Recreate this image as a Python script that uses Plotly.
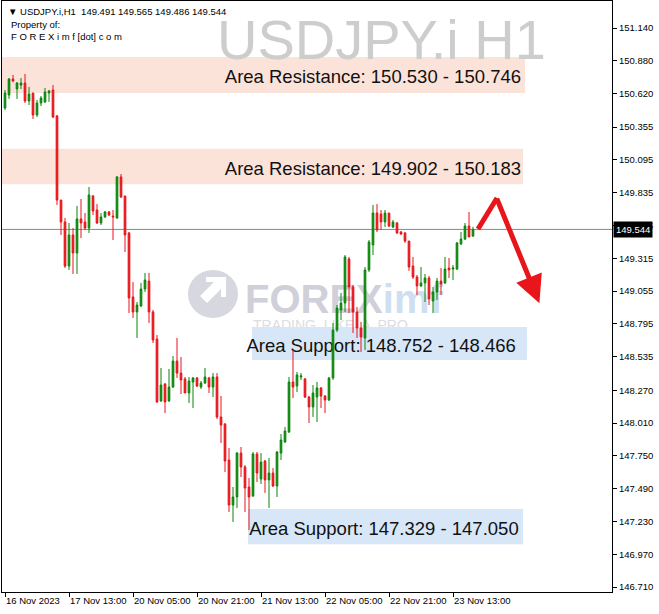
import plotly.graph_objects as go

# ---------------- data (USDJPY.i, H1) ----------------
opens = [150.506, 150.609, 150.736, 150.657, 150.688, 150.704, 150.562, 150.625, 150.451, 150.546,
         150.554, 150.625, 150.649, 150.443, 149.777, 149.603, 149.254, 149.500, 149.357, 149.627,
         149.603, 149.555, 149.809, 149.698, 149.595, 149.643, 149.682, 149.650, 149.635, 149.960,
         149.809, 149.516, 149.009, 148.890, 148.937, 149.072, 149.135, 148.890, 148.676, 148.185,
         148.319, 148.185, 148.295, 148.501, 148.406, 148.359, 148.248, 148.335, 148.367, 148.295,
         148.327, 148.367, 148.295, 148.375, 148.058, 148.002, 147.717, 147.360, 147.424, 147.772,
         147.662, 147.503, 147.432, 147.765, 147.566, 147.709, 147.559, 147.614, 147.511, 147.772,
         147.860, 147.939, 148.335, 148.303, 148.375, 148.359, 148.216, 148.137, 148.216, 148.288,
         148.224, 148.192, 148.367, 148.747, 148.906, 148.961, 149.310, 149.088, 148.890, 148.763,
         148.684, 149.223, 149.421, 149.674, 149.666, 149.603, 149.674, 149.563, 149.595, 149.524,
         149.516, 149.452, 149.254, 149.167, 149.096, 149.120, 149.159, 148.977, 149.048, 149.135,
         149.120, 149.238, 149.230, 149.230, 149.429, 149.468, 149.571, 149.491]

highs = [150.649, 150.744, 150.768, 150.712, 150.744, 150.776, 150.673, 150.625, 150.570, 150.601,
         150.665, 150.649, 150.688, 150.451, 149.777, 149.635, 149.595, 149.555, 149.730, 149.785,
         149.674, 149.880, 149.817, 149.746, 149.674, 149.690, 149.690, 149.698, 149.967, 149.983,
         149.809, 149.524, 149.127, 148.969, 149.120, 149.199, 149.199, 148.906, 148.708, 148.446,
         148.327, 148.438, 148.541, 148.684, 148.533, 148.375, 148.375, 148.375, 148.375, 148.343,
         148.446, 148.375, 148.406, 148.406, 148.224, 148.010, 147.812, 147.503, 147.780, 147.820,
         147.677, 147.574, 147.780, 147.780, 147.772, 147.717, 147.733, 147.654, 147.788, 147.923,
         147.979, 148.375, 148.589, 148.414, 148.406, 148.367, 148.224, 148.311, 148.335, 148.295,
         148.232, 148.375, 148.803, 148.945, 149.040, 149.341, 149.326, 149.104, 148.929, 148.811,
         149.246, 149.460, 149.738, 149.746, 149.698, 149.698, 149.674, 149.619, 149.603, 149.532,
         149.524, 149.452, 149.326, 149.183, 149.246, 149.191, 149.175, 149.088, 149.159, 149.238,
         149.326, 149.318, 149.262, 149.444, 149.524, 149.595, 149.682, 149.565]

lows = [150.490, 150.578, 150.712, 150.578, 150.657, 150.546, 150.530, 150.419, 150.435, 150.522,
        150.546, 150.554, 150.427, 149.738, 149.500, 149.238, 149.223, 149.191, 149.191, 149.476,
        149.540, 149.516, 149.658, 149.587, 149.579, 149.635, 149.650, 149.460, 149.627, 149.793,
        149.365, 148.882, 148.842, 148.684, 148.929, 149.048, 148.803, 148.644, 148.169, 148.177,
        148.089, 148.177, 148.288, 148.367, 148.240, 148.248, 148.169, 148.129, 148.295, 148.280,
        148.319, 148.248, 148.216, 148.042, 147.852, 147.622, 147.305, 147.226, 147.337, 147.582,
        147.305, 147.162, 147.424, 147.543, 147.527, 147.456, 147.337, 147.503, 147.424, 147.717,
        147.852, 147.931, 148.208, 148.256, 148.351, 148.208, 148.010, 148.058, 148.018, 148.129,
        148.089, 148.185, 148.351, 148.731, 148.826, 148.890, 148.882, 148.723, 148.684, 148.573,
        148.589, 149.207, 149.341, 149.524, 149.540, 149.563, 149.563, 149.555, 149.508, 149.500,
        149.437, 149.215, 149.151, 149.024, 149.088, 148.969, 148.945, 148.882, 148.985, 149.024,
        149.112, 149.159, 149.143, 149.223, 149.421, 149.460, 149.484, 149.486]

closes = [150.625, 150.736, 150.720, 150.704, 150.704, 150.562, 150.617, 150.451, 150.546, 150.585,
          150.633, 150.641, 150.435, 149.777, 149.603, 149.254, 149.500, 149.357, 149.627, 149.595,
          149.555, 149.817, 149.690, 149.595, 149.643, 149.682, 149.658, 149.643, 149.960, 149.801,
          149.500, 149.001, 148.890, 148.945, 149.072, 149.143, 148.890, 148.668, 148.177, 148.311,
          148.177, 148.295, 148.501, 148.406, 148.351, 148.248, 148.343, 148.367, 148.303, 148.327,
          148.375, 148.295, 148.375, 148.058, 147.994, 147.709, 147.360, 147.424, 147.772, 147.662,
          147.495, 147.424, 147.765, 147.614, 147.701, 147.559, 147.614, 147.511, 147.780, 147.875,
          147.947, 148.335, 148.295, 148.391, 148.383, 148.216, 148.137, 148.248, 148.288, 148.224,
          148.192, 148.367, 148.747, 148.921, 148.961, 149.326, 149.088, 148.890, 148.763, 148.692,
          149.223, 149.444, 149.674, 149.540, 149.603, 149.674, 149.571, 149.603, 149.516, 149.508,
          149.452, 149.246, 149.167, 149.096, 149.120, 149.159, 148.993, 149.048, 149.135, 149.112,
          149.230, 149.223, 149.238, 149.437, 149.468, 149.571, 149.484, 149.544]

bar_index = list(range(len(opens)))

time_tick_bars = [0, 16, 32, 48, 64, 80, 96, 112]
time_tick_labels = ["16 Nov 2023", "17 Nov 13:00", "20 Nov 05:00", "20 Nov 21:00",
                    "21 Nov 13:00", "22 Nov 05:00", "22 Nov 21:00", "23 Nov 13:00"]

price_ticks = [151.140, 150.880, 150.620, 150.355, 150.095, 149.835, 149.575, 149.315, 149.055,
               148.795, 148.535, 148.270, 148.010, 147.750, 147.490, 147.230, 146.970, 146.710]

last_price = 149.544
header_ohlc = "149.491 149.565 149.486 149.544"

resistance_zones = [(150.625, 150.910), (149.902, 150.183)]
resistance_labels = ["Area Resistance: 150.530 - 150.746", "Area Resistance: 149.902 - 150.183"]
support_zones = [(148.509, 148.771), (147.050, 147.329)]
support_labels = ["Area Support: 148.752 - 148.466", "Area Support: 147.329 - 147.050"]

# ---------------- styling ----------------
GREEN = "#0b860b"
RED = "#e8151b"
RES_FILL = "#fce3d9"
SUP_FILL = "#d7e7f8"
FONT = "Liberation Sans"

L, R, T, B = 2, 47, 1, 22
W, H = 659, 614
PW, PH = W - L - R, H - T - B


def px(x):
    return (x - L) / PW


def py(y):
    return (H - B - y) / PH


fig = go.Figure()

fig.add_trace(go.Candlestick(
    x=bar_index, open=opens, high=highs, low=lows, close=closes,
    increasing=dict(line=dict(color=GREEN, width=1), fillcolor=GREEN),
    decreasing=dict(line=dict(color=RED, width=1), fillcolor=RED),
    whiskerwidth=0, hoverinfo="skip", showlegend=False,
))

# zones (background)
res_x = [(-2, 130.0), (-2, 129.5)]
sup_x = [(61.75, 130.5), (60.75, 129.5)]
for (y0, y1), (x0, x1) in zip(resistance_zones, res_x):
    fig.add_shape(type="rect", xref="x", yref="y", x0=x0, x1=x1, y0=y0, y1=y1,
                  fillcolor=RES_FILL, line=dict(width=0), layer="below")
for (y0, y1), (x0, x1) in zip(support_zones, sup_x):
    fig.add_shape(type="rect", xref="x", yref="y", x0=x0, x1=x1, y0=y0, y1=y1,
                  fillcolor=SUP_FILL, line=dict(width=0), layer="below")

# zone labels (drawn below candles as shape labels)
label_font = dict(family=FONT, size=18.5, color="#111111")
for (y0, y1), text in zip(resistance_zones, resistance_labels):
    fig.add_shape(type="rect", xref="x", yref="y", x0=40, x1=129.75, y0=y0, y1=y1,
                  line=dict(width=0), fillcolor="rgba(0,0,0,0)", layer="below",
                  label=dict(text=text, font=label_font, textposition="middle right", padding=0))
sup_text_x = [59.6, 60.3]
for (y0, y1), text, x0 in zip(support_zones, support_labels, sup_text_x):
    fig.add_shape(type="rect", xref="x", yref="y", x0=x0, x1=x0 + 80, y0=y0, y1=y1,
                  line=dict(width=0), fillcolor="rgba(0,0,0,0)", layer="below",
                  label=dict(text=text, font=label_font, textposition="middle left", padding=0))

# watermark logo (below candles)
fig.add_shape(type="circle", xref="paper", yref="paper",
              x0=px(188), x1=px(238), y0=py(318), y1=py(270),
              fillcolor="#d6d7df", line=dict(width=0), layer="below")
fig.add_shape(type="path", xref="paper", yref="paper",
              path=f"M {px(200)},{py(296)} L {px(214)},{py(282)} L {px(206)},{py(282)} L {px(206)},{py(277)} "
                   f"L {px(226)},{py(277)} L {px(226)},{py(297)} L {px(221)},{py(297)} L {px(221)},{py(289)} "
                   f"L {px(207)},{py(303)} Z",
              fillcolor="white", line=dict(width=0), layer="below")
fig.add_shape(type="rect", xref="paper", yref="paper",
              x0=px(242), x1=px(440), y0=py(318), y1=py(272),
              line=dict(width=0), fillcolor="rgba(0,0,0,0)", layer="below",
              label=dict(text="<b><span style='color:#cfd0d9'>FOREX</span><span style='color:#cddff0'>imf</span></b>",
                         font=dict(family=FONT, size=40, color="#cfd0d9"),
                         textposition="middle left", padding=0))
fig.add_shape(type="rect", xref="paper", yref="paper",
              x0=px(250), x1=px(440), y0=py(331), y1=py(316),
              line=dict(width=0), fillcolor="rgba(0,0,0,0)", layer="below",
              label=dict(text="TRADING  LIKE  A  PRO", font=dict(family=FONT, size=14, color="#dcdde3"),
                         textposition="middle left", padding=0))

# last price line
fig.add_shape(type="line", xref="paper", yref="y", x0=0, x1=1, y0=last_price, y1=last_price,
              line=dict(color="#7f8896", width=1), layer="below")

# red forecast arrow
fig.add_trace(go.Scatter(x=[118.25, 123.0], y=[149.547, 149.793], mode="lines",
                         line=dict(color=RED, width=5), hoverinfo="skip", showlegend=False))
fig.add_annotation(x=133.6, y=148.96, ax=122.8, ay=149.80, xref="x", yref="y", axref="x", ayref="y",
                   text="", showarrow=True, arrowhead=2, arrowsize=1.1, arrowwidth=5, arrowcolor=RED,
                   standoff=0, startstandoff=0)

# big symbol watermark
fig.add_annotation(x=px(381), y=py(40), xref="paper", yref="paper", text="USDJPY.i H1",
                   showarrow=False, font=dict(family=FONT, size=56, color="#cdcdcd"),
                   xanchor="center", yanchor="middle")

# header texts
hdr_font = dict(family=FONT, size=9.5, color="black")
fig.add_annotation(x=px(6), y=py(11), xref="paper", yref="paper",
                   text="▼ USDJPY.i,H1  " + header_ohlc, showarrow=False, font=hdr_font,
                   xanchor="left", yanchor="middle")
fig.add_annotation(x=px(9), y=py(24), xref="paper", yref="paper", text="Property of:",
                   showarrow=False, font=hdr_font, xanchor="left", yanchor="middle")
fig.add_annotation(x=px(9), y=py(37), xref="paper", yref="paper", text="F O R E X i m f [dot] c o m",
                   showarrow=False, font=hdr_font, xanchor="left", yanchor="middle")

# current price tag
fig.add_annotation(x=1, y=last_price, xref="paper", yref="y", text=f"{last_price:.3f}",
                   showarrow=False, font=dict(family=FONT, size=9.5, color="white"),
                   bgcolor="black", xanchor="left", yanchor="middle", borderpad=2, xshift=1)

fig.update_layout(
    width=W, height=H, margin=dict(l=L, r=R, t=T, b=B),
    paper_bgcolor="white", plot_bgcolor="white", showlegend=False, boxgap=0.4,
    xaxis=dict(range=[-0.75, 151.75], rangeslider=dict(visible=False),
               tickmode="array", tickvals=time_tick_bars, ticktext=time_tick_labels,
               ticks="outside", ticklen=4, tickcolor="black", showline=True, linecolor="black",
               linewidth=1, mirror=True, showgrid=False, zeroline=False,
               ticklabelposition="outside right", tickangle=0,
               tickfont=dict(family=FONT, size=9.5, color="black")),
    yaxis=dict(side="right", range=[146.671, 151.354], tickmode="array", tickvals=price_ticks,
               ticktext=[f"{v:.3f}" for v in price_ticks], ticks="outside", ticklen=4,
               tickcolor="black", showline=True, linecolor="black", linewidth=1, mirror=True,
               showgrid=False, zeroline=False,
               tickfont=dict(family=FONT, size=9.5, color="black")),
)

fig.write_html("out.html", config={"displayModeBar": False},
               post_script="document.body.style.margin='0';document.body.style.overflow='hidden';")
